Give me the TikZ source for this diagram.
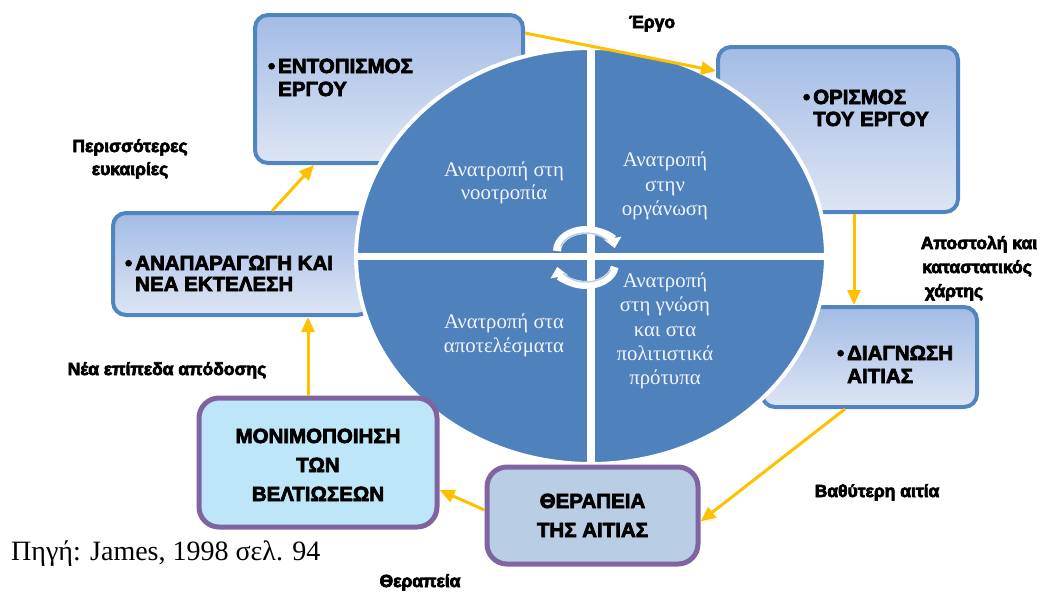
\documentclass[tikz,border=0pt]{standalone}
\usepackage{fontspec}
\setmainfont{Liberation Serif}
\newfontfamily\sansbold{Liberation Sans}
\usetikzlibrary{shapes.geometric,arrows.meta}

% heavier lettering: fill and stroke the glyph outlines
\newcommand{\heavytext}[1]{\special{pdf:literal direct 2 Tr 0.7 w}#1\special{pdf:literal direct 0 Tr}}

\definecolor{pieblue}{HTML}{4F81BD}
\definecolor{frameblue}{HTML}{5185C2}
\definecolor{boxtop}{HTML}{A3BCE5}
\definecolor{boxbottom}{HTML}{DDE5F4}
\definecolor{framepurple}{HTML}{8064A2}
\definecolor{curefill}{HTML}{B9CDE5}
\definecolor{keepfill}{HTML}{BDE7F8}
\definecolor{flow}{HTML}{FFC000}
\definecolor{quadtext}{HTML}{F2F5FA}
\definecolor{turnline}{HTML}{BCCDE6}

\begin{document}
\begin{tikzpicture}[x=1pt,y=-1pt,
  stagebox/.style={draw=frameblue, line width=4pt, rounded corners=13pt,
    top color=boxtop, bottom color=boxbottom, inner sep=0pt},
  endbox/.style={draw=framepurple, line width=5pt, rounded corners=20pt, inner sep=0pt},
  boxtext/.style={font=\sansbold\bfseries\fontsize{20.5}{24}\selectfont, inner sep=0pt, anchor=base west},
  midtext/.style={font=\sansbold\bfseries\fontsize{20.5}{24}\selectfont, inner sep=0pt, anchor=base},
  tag/.style={font=\sansbold\bfseries\fontsize{17.5}{21}\selectfont, inner sep=0pt, anchor=base},
  quad/.style={font=\fontsize{20.8}{24}\selectfont, text=quadtext, inner sep=0pt, anchor=base},
  flowarrow/.style={draw=flow, line width=3pt, -{Triangle[length=15pt,width=13pt]}},
  turn/.style={white, line width=8pt, -{Triangle[length=10pt,width=17pt]}},
  turninner/.style={turnline, line width=1.5pt},
]
\useasboundingbox (0,0) rectangle (1045,592);

% stage boxes lying behind the pie
\node[stagebox, minimum width=268pt, minimum height=148pt] (find) at (389,89) {};
\node[stagebox, minimum width=240pt, minimum height=165pt] (define) at (838,129.5) {};
\node[stagebox, minimum width=215pt, minimum height=100pt] (diagnose) at (869.5,357) {};
\node[stagebox, minimum width=257pt, minimum height=102pt] (reproduce) at (241.5,264) {};

% the four-part pie
\node[ellipse, fill=pieblue, draw=white, line width=4pt, minimum width=470pt,
  minimum height=416pt, inner sep=0pt] (pie) at (591,256) {};
\draw[white, line width=8pt] (pie.north) -- (pie.south);
\draw[white, line width=7pt] (pie.west) -- (pie.east);

% circular arrows at the centre
\draw[turn] (586,251) ++(180:29 and 21) arc[start angle=180, end angle=352, x radius=29, y radius=21];
\draw[turninner] (586,251) ++(195:26 and 18) arc[start angle=195, end angle=325, x radius=26, y radius=18];
\draw[turn] (586,264) ++(8:29 and 21) arc[start angle=8, end angle=172, x radius=29, y radius=21];
\draw[turninner] (586,264) ++(20:26 and 18) arc[start angle=20, end angle=150, x radius=26, y radius=18];

% quadrant texts
\node[quad] (tlA) at (504,176) {Ανατροπή στη};
\node[quad] (tlB) at (504,199) {νοοτροπία};
\node[quad] (trA) at (665,166) {Ανατροπή};
\node[quad] (trB) at (665,191) {στην};
\node[quad] (trC) at (665,215) {οργάνωση};
\node[quad] (blA) at (504,328) {Ανατροπή στα};
\node[quad] (blB) at (504,352) {αποτελέσματα};
\node[quad] (brA) at (665,287) {Ανατροπή};
\node[quad] (brB) at (665,311) {στη γνώση};
\node[quad] (brC) at (665,336) {και στα};
\node[quad] (brD) at (665,360) {πολιτιστικά};
\node[quad] (brE) at (665,384) {πρότυπα};

% boxes in front of the pie
\node[endbox, fill=curefill, minimum width=211pt, minimum height=97pt] (cure) at (592.5,515.5) {};
\node[endbox, fill=keepfill, minimum width=238pt, minimum height=129pt] (keep) at (318,462.5) {};

% box texts
\node[boxtext] (findA) at (278,73) {\heavytext{\llap{•\hspace{3pt}}ΕΝΤΟΠΙΣΜΟΣ}};
\node[boxtext] (findB) at (278,96) {\heavytext{ΕΡΓΟΥ}};
\node[boxtext] (defineA) at (813,104) {\heavytext{\llap{•\hspace{3pt}}ΟΡΙΣΜΟΣ}};
\node[boxtext] (defineB) at (813,126) {\heavytext{ΤΟΥ ΕΡΓΟΥ}};
\node[boxtext] (diagA) at (847,360) {\heavytext{\llap{•\hspace{3pt}}ΔΙΑΓΝΩΣΗ}};
\node[boxtext] (diagB) at (847,383) {\heavytext{ΑΙΤΙΑΣ}};
\node[boxtext] (repA) at (135,270) {\heavytext{\llap{•\hspace{3pt}}ΑΝΑΠΑΡΑΓΩΓΗ ΚΑΙ}};
\node[boxtext] (repB) at (135,291) {\heavytext{ΝΕΑ ΕΚΤΕΛΕΣΗ}};
\node[midtext] (cureA) at (592.5,508) {\heavytext{ΘΕΡΑΠΕΙΑ}};
\node[midtext] (cureB) at (592.5,537) {\heavytext{ΤΗΣ ΑΙΤΙΑΣ}};
\node[midtext] (keepA) at (318,443) {\heavytext{ΜΟΝΙΜΟΠΟΙΗΣΗ}};
\node[midtext] (keepB) at (318,472) {\heavytext{ΤΩΝ}};
\node[midtext] (keepC) at (318,501) {\heavytext{ΒΕΛΤΙΩΣΕΩΝ}};

% flow labels
\node[tag] (lblWork) at (652,28) {\heavytext{Έργο}};
\node[tag] (lblMoreA) at (130,152) {\heavytext{Περισσότερες}};
\node[tag] (lblMoreB) at (130,175) {\heavytext{ευκαιρίες}};
\node[tag] (lblMissionA) at (979,249) {\heavytext{Αποστολή και}};
\node[tag] (lblMissionB) at (977,273) {\heavytext{καταστατικός}};
\node[tag] (lblMissionC) at (954,297) {\heavytext{χάρτης}};
\node[tag] (lblLevels) at (167,375) {\heavytext{Νέα επίπεδα απόδοσης}};
\node[tag] (lblDeeper) at (877,497) {\heavytext{Βαθύτερη αιτία}};
\node[tag] (lblCure) at (420,587) {\heavytext{Θεραπεία}};

% source line
\node[anchor=base west, inner sep=0pt, font=\fontsize{28}{32}\selectfont] (source) at (11,560) {Πηγή: James, 1998 σελ. 94};

% flow arrows
\draw[flowarrow] ([yshift=-20pt]find.north east) -- ([yshift=-26pt]define.north west);
\draw[flowarrow] ([xshift=16pt]define.south) -- ([xshift=-15.5pt]diagnose.north);
\draw[flowarrow] ([xshift=-24.5pt]diagnose.south) -- ([yshift=-6pt]cure.east);
\draw[flowarrow] ([yshift=5.5pt]cure.west) -- ([yshift=-27.5pt]keep.east);
\draw[flowarrow] ([xshift=-10pt]keep.north) -- ([xshift=66.5pt]reproduce.south);
\draw[flowarrow] ([xshift=30.5pt]reproduce.north) -- ([xshift=-75pt]find.south);
\end{tikzpicture}
\end{document}
